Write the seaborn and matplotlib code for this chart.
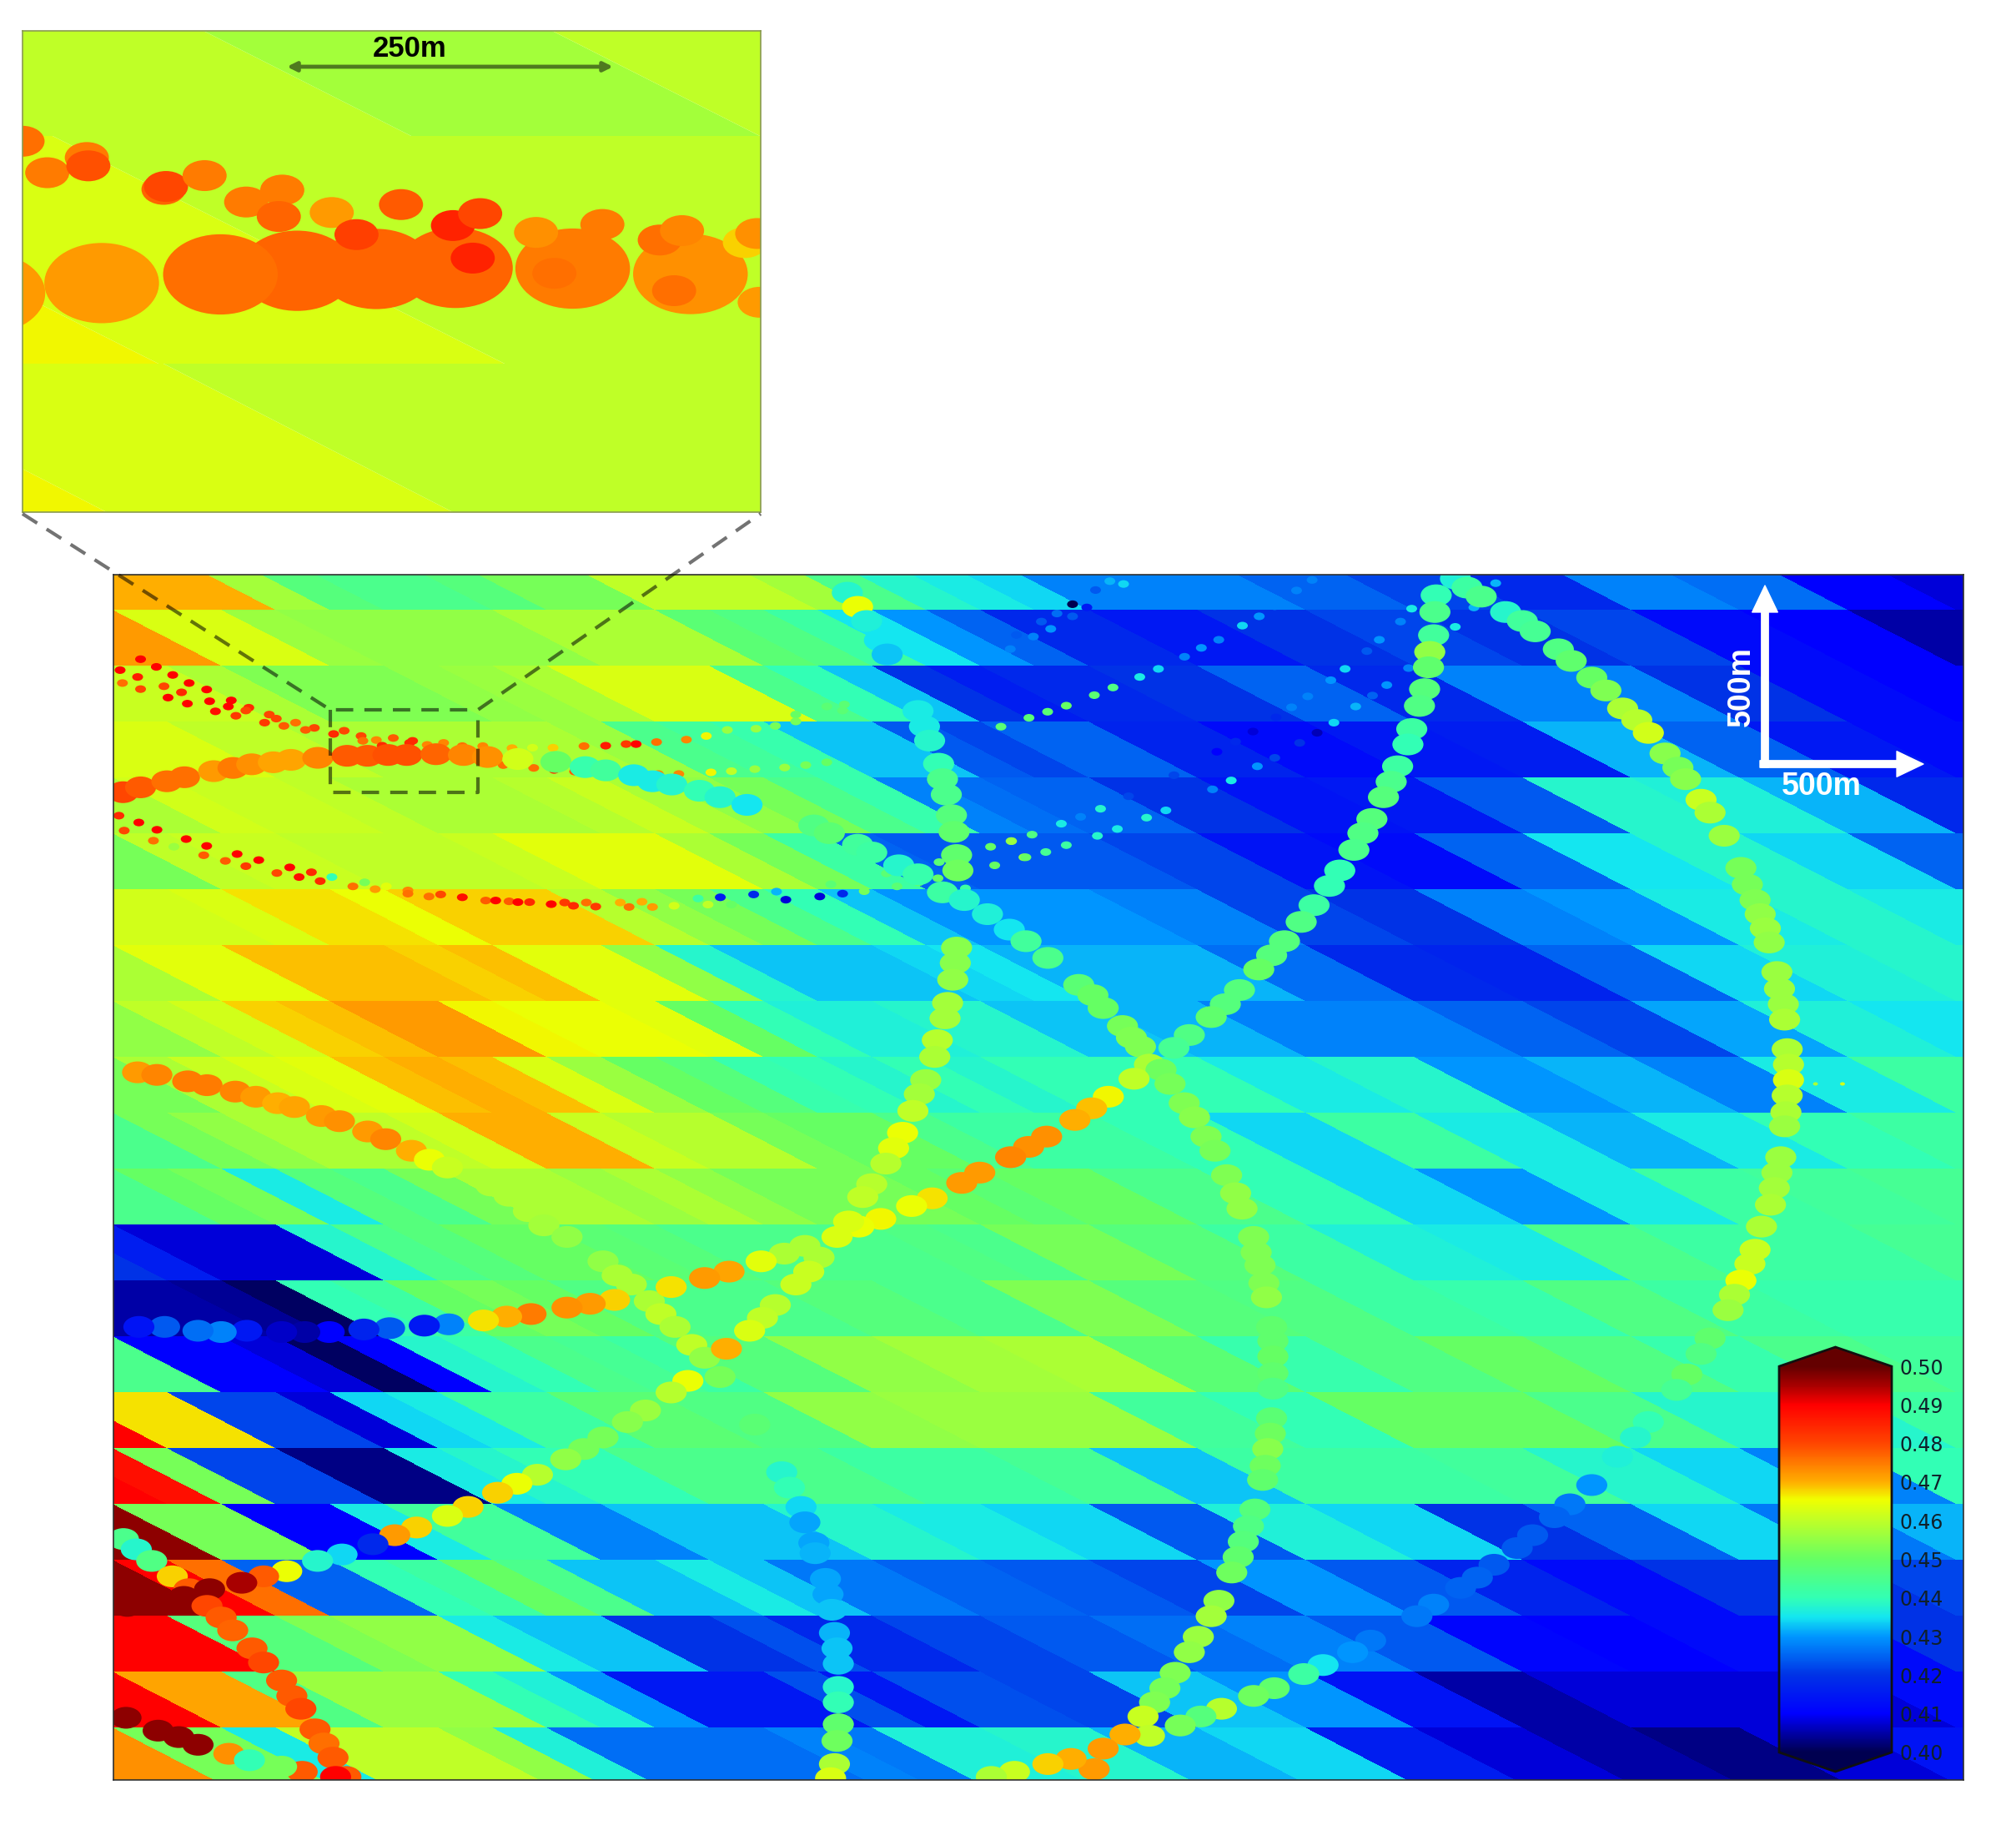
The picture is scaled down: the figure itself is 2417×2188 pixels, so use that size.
import numpy as np
import matplotlib
matplotlib.use("Agg")
import matplotlib.pyplot as plt
from matplotlib.colors import LinearSegmentedColormap, Normalize
from matplotlib.path import Path
from matplotlib.transforms import Affine2D
import seaborn as sns

sns.set_theme(style="white")
plt.rcParams["font.family"] = ["DejaVu Sans"]

W_PX, H_PX = 2417, 2188
SHRINK = 1.5415

# background cells, one list per band, left to right (value x 1000)
row00 = [470,470,450,445,448,455,460,445,434,428,428,425,422,418,428,426,410,408,408]
row01 = [470,458,455,455,456,458,450,440,428,418,415,420,422,420,422,412,410,405,405]
row02 = [462,460,452,455,462,462,450,435,420,418,420,425,418,428,428,420,412,410,410]
row03 = [463,462,460,457,458,455,445,433,424,425,417,412,415,416,432,425,415,412,412]
row04 = [460,462,460,460,458,460,455,440,428,425,420,414,415,424,438,437,432,418,418]
row05 = [455,462,460,460,462,463,455,442,424,424,422,414,412,425,435,438,434,425,425]
row06 = [462,463,467,462,467,458,452,440,430,430,428,422,420,428,430,436,438,436,436]
row07 = [458,464,468,464,468,463,446,433,432,432,432,426,418,417,425,434,437,438,438]
row08 = [455,460,468,472,465,465,450,436,438,433,432,428,428,425,422,431,437,435,435]
row09 = [452,458,463,470,463,455,445,440,436,440,440,436,438,430,432,428,436,442,442]
row10 = [445,452,458,460,470,460,452,450,440,442,440,434,442,436,432,436,440,442,442]
row11 = [445,450,436,450,455,458,455,455,448,450,445,440,434,430,436,442,443,444,444]
row12 = [412,410,414,445,448,450,447,445,445,452,447,442,437,436,445,442,442,444,444]
row13 = [405,403,401,442,450,445,445,447,445,453,447,446,442,441,446,442,441,441,441]
row14 = [445,412,401,412,438,442,447,455,457,458,448,441,446,450,446,441,445,443,443]
row15 = [467,422,408,434,442,448,446,455,456,456,443,440,450,450,445,438,438,442,442]
row16 = [488,452,412,403,437,440,445,445,442,444,433,442,442,443,438,434,428,440,440]
row17 = [497,452,410,438,443,433,433,438,436,434,424,437,434,420,425,434,427,432,432]
row18 = [496,476,423,440,448,433,434,427,425,424,422,430,424,417,412,420,420,422,422]
row19 = [490,490,452,456,450,433,423,418,422,424,426,428,424,411,410,412,412,420,420]
row20 = [490,471,456,456,440,432,415,415,423,422,433,430,414,405,408,408,408,412,412]
row21 = [472,455,435,458,455,437,425,427,437,438,432,434,416,408,405,403,408,414,414]
bg_rows = [row00,row01,row02,row03,row04,row05,row06,row07,row08,row09,row10,
           row11,row12,row13,row14,row15,row16,row17,row18,row19,row20,row21]

# half-width cells for the left part of each band, these replace the coarse ones above
fine00 = [470,470,470,457,447,445,445,447,452,452,460,460,460,457,445,438,436,434]
fine01 = [472,472,463,463,456,455,455,455,455,458,458,458,448,446,442,435,430,425]
fine02 = [461,461,461,458,453,453,453,455,456,458,463,463,463,445,440,433,420,416]
fine03 = [463,463,463,460,460,458,458,458,458,458,456,445,443,441,433,433,424,422]
fine04 = [458,458,462,461,461,460,458,458,458,459,461,458,455,452,445,441,428,426]
fine05 = [452,452,460,461,461,460,460,460,461,464,464,464,458,452,442,425,424,424]
fine06 = [462,462,462,463,467,467,465,468,468,468,459,455,452,445,440,433,430,430]
fine07 = [458,458,464,464,469,469,469,468,469,464,464,455,438,433,433,433,434,435]
fine08 = [455,455,460,462,468,469,472,472,466,465,465,464,450,440,437,437,438,438]
fine09 = [452,452,458,461,463,464,469,470,469,463,456,450,447,441,440,438,440,438]
fine10 = [445,445,452,455,458,458,460,462,470,470,461,459,459,452,450,450,445,442]
fine11 = [445,445,450,452,436,447,445,452,458,458,456,458,455,452,452,452,450,448]
fine12 = [420,416,408,408,408,438,445,447,450,450,448,447,445,445,445,445,446,445]
fine13 = [405,405,405,404,401,440,442,450,452,450,446,445,445,445,447,447,445,445]
fine14 = [445,445,410,410,408,401,410,438,440,445,444,442,447,447,455,455,457,457]
fine15 = [490,467,467,422,422,408,434,436,442,442,448,448,446,446,455,455,456,456]
fine16 = [490,488,452,422,422,403,403,436,438,440,440,445,445,445,445,442,442,442]
fine17 = [497,497,452,452,410,410,436,443,443,428,428,433,433,433,438,438,436,436]
fine18 = [497,497,490,476,425,425,440,442,450,445,433,433,436,433,427,427,425,425]
fine19 = [490,490,490,447,447,453,455,455,436,433,433,420,420,423,418,418,422,422]
fine20 = [490,490,471,471,446,456,456,456,440,437,430,415,415,415,423,415,423,423]
fine21 = [473,473,452,452,436,460,460,460,455,437,426,426,426,426,428,427,437,437]
bg_fine = [fine00,fine01,fine02,fine03,fine04,fine05,fine06,fine07,fine08,fine09,fine10,
           fine11,fine12,fine13,fine14,fine15,fine16,fine17,fine18,fine19,fine20,fine21]

# big dot tracks, x y value
trackA_x = [1117,1116,1115,1112,1111,1108,1104,1098,1095,1087,1082,1076,1067,1060,1053,1042,1034,1022,1012,999,989,979,964,953,942,925,913,882,862,849,836,814,800,786,762,748,725,709,685,668,660,651,626,610,592,567,548,522,478,459,441,413,394,376,349,330,303,283,256,237,219,192,172,154,128,108]
trackA_y = [463,476,494,507,519,536,549,567,579,596,608,620,637,648,661,677,689,704,717,732,743,754,770,781,791,805,815,839,853,862,871,884,892,900,912,920,932,938,948,954,950,962,969,975,981,989,994,1001,1011,1014,1017,1022,1024,1027,1030,1031,1033,1034,1036,1036,1036,1035,1036,1035,1032,1032]
trackA_v = [440,445,443,455,449,447,446,442,440,442,445,447,447,446,445,440,440,442,446,447,447,450,447,447,449,446,444,460,466,469,470,473,473,474,472,472,467,465,466,465,463,463,458,458,464,471,472,467,468,472,473,475,470,467,428,415,424,417,410,405,407,415,428,426,424,414]

trackB_x = [637,629,619,603,593,583,565,535,522,502,488,469,454,440,418,402,387,364,348,324,307,290,266,247,223,205,188]
trackB_y = [978,989,999,1015,1025,1035,1049,1074,1083,1097,1106,1118,1127,1135,1147,1154,1161,1172,1179,1188,1194,1201,1209,1214,1222,1226,1231]
trackB_v = [458,461,461,459,460,463,470,465,459,456,454,452,452,455,459,465,468,468,463,468,472,418,434,438,465,478,495]

trackC_x = [96,106,118,134,147,163,143,117,99,161,172,181,196,205,219,227,234,245,252,259,269,261,235]
trackC_y = [1197,1205,1214,1226,1236,1236,1242,1245,1249,1249,1258,1268,1282,1293,1307,1319,1329,1345,1356,1367,1382,1382,1378]
trackC_v = [445,438,446,468,478,497,497,497,497,480,478,477,478,480,478,478,480,478,476,478,478,490,478]

trackD_x = [98,123,139,154,178,194,219]
trackD_y = [1336,1346,1351,1357,1364,1369,1374]
trackD_v = [497,497,497,497,473,440,452]

trackE_x = [107,122,146,161,183,199,216,229,250,264,286,300,320,334,348,382,396,411,423,441,469,480,491,505,514,525,538,548,560,587,608,614,623,626,633,634,642,644,647,649,651,652,652,652,652,651,649,646]
trackE_y = [834,836,841,844,849,853,858,861,868,872,880,886,895,902,908,922,930,942,953,962,981,992,999,1012,1022,1032,1046,1056,1071,1108,1145,1157,1172,1184,1200,1208,1228,1240,1252,1270,1282,1294,1312,1324,1341,1354,1372,1383]
trackE_v = [472,474,475,475,474,472,470,471,472,473,472,474,470,465,461,458,458,458,457,455,455,458,458,458,460,458,460,455,452,448,438,440,434,431,431,432,431,431,433,432,433,433,438,440,449,451,458,463]

trackF_x = [659,667,674,684,690,714,719,723,730,733,736,740,742,744,745,744,743,741,737,735,729,727,720,715,710,702,695,689,678,671]
trackF_y = [461,472,483,498,509,553,565,576,594,606,618,634,647,665,677,737,749,762,780,792,809,822,840,851,864,881,893,905,921,931]
trackF_v = [438,465,437,435,433,436,436,438,440,445,445,447,449,449,451,454,454,455,457,457,459,458,456,457,460,465,464,459,459,460]

trackG_x = [544,560,581,633,645,667,678,699,714,733,750,768,785,798,815,839,850,858,873,880,887,894,903,910,921,929,938,945,954,961,966,975,977,980,983,985,989,990,990,990,990,989,988,986,984,982,976,971,967,963,958,948,942,932,925,914,906,898,889,894,875,858,851,833,815,789,771]
trackG_y = [615,620,626,642,648,657,663,673,680,694,700,711,723,732,745,766,774,784,798,807,814,828,832,843,858,869,884,895,914,928,940,962,974,984,998,1009,1032,1043,1055,1068,1080,1103,1115,1127,1140,1151,1174,1187,1199,1211,1223,1245,1257,1273,1285,1301,1313,1324,1335,1350,1349,1360,1376,1368,1372,1378,1382]
trackG_v = [440,438,435,446,448,443,442,438,441,442,438,437,435,443,445,448,450,450,452,453,453,458,451,452,453,454,453,452,453,455,455,453,453,453,453,455,449,449,450,449,446,448,451,454,451,449,447,446,447,449,451,455,457,456,455,453,452,453,461,460,470,472,472,470,468,461,458]

trackH_x = [1132,1141,1152,1171,1184,1194,1212,1222,1238,1249,1262,1273,1282,1295,1305,1311,1323,1330,1341,1354,1359,1365,1369,1373,1376,1382,1384,1387,1388,1390,1391,1391,1390,1389,1388,1385,1382,1380,1377,1370,1365,1361,1354,1349,1344,1330,1323,1312,1304,1282,1272,1258,1238,1221,1209,1192,1180,1162,1149,1136,1115,1102,1066,1052,1029,1014,991,975,950,934,918]
trackH_y = [450,457,464,476,483,491,505,514,527,537,551,560,570,586,597,606,622,632,650,675,688,700,711,722,733,756,769,781,793,816,828,840,852,865,876,900,912,924,937,954,972,983,996,1007,1019,1041,1053,1069,1081,1106,1118,1133,1155,1170,1180,1194,1204,1217,1227,1235,1248,1257,1276,1285,1295,1302,1313,1319,1329,1335,1342]
trackH_v = [437,442,445,438,443,444,446,449,450,453,458,459,462,454,452,454,461,458,456,452,452,453,455,456,455,456,456,456,458,458,459,463,459,458,456,456,456,457,458,458,461,461,465,458,456,449,446,450,444,440,438,437,430,427,425,424,424,424,425,425,428,427,427,430,435,442,449,451,459,447,452]

# the thick track running into the zoom box, read in crop 1 pixels
trackI_zx = [25,55,100,130,180,213,245,282,312,358,408,443,478,510,560,607,648,700,765,815,850,898,930,963]
trackI_zy = [557,545,530,520,505,497,488,483,477,472,467,467,465,465,463,465,470,475,482,495,503,515,530,538]
trackI_v = [480,478,476,476,472,475,473,471,471,474,478,478,479,479,477,474,473,462,450,441,443,436,436,438]

# small dots read in crop 1 pixels
redA_zx = [55,82,110,138,168,20,50,24,55,95,125,102,135,173,183,210,205,240,235,218,275,287,267,300,320,352,337,403,385]
redA_zy = [228,247,267,287,303,255,272,287,302,295,310,323,338,332,357,330,345,348,355,368,365,375,385,393,385,398,403,405,413]
redA_v = [490,490,490,490,490,490,486,476,480,480,484,490,490,490,488,490,490,484,480,482,480,480,482,478,476,480,478,480,484]

midB_zx = [432,435,458,487,468,515,520,545,573,605,640,690,725,760,813,850,885,902,937,988,1022,1058,1107,1140,1175,1175,1228,1258,1255]
midB_zy = [418,430,428,423,442,435,430,440,435,443,443,448,447,447,443,442,438,438,433,427,418,403,400,393,365,382,345,340,355]
midB_v = [480,476,474,478,484,484,484,474,474,476,474,470,462,468,476,486,482,490,476,474,466,456,456,452,450,452,448,448,448]

lowC_zx = [675,727,762,797,850,886,940,975,1030,1065,1105,1156,1192,1228]
lowC_zy = [490,497,502,506,510,511,512,512,508,505,500,496,490,483]
lowC_v = [476,476,484,478,476,482,474,474,466,460,456,456,452,450]

lineD_zx = [18,52,27,83,77,133,112,168,163,220,200,257,235,310,288,347,326,362,382,418,438,456,475,512,512,548,568,605,645,662,685,700,720,757,780,795,817,833,875,890,912,930,967,1008,1025,1046,1065,1103,1142,1158,1216,1255,1292,1348,1385,1418,1465,1235,1508,1543,1515,1565,1420,1330]
lineD_zy = [615,632,652,650,677,673,692,690,713,710,727,725,740,743,757,755,767,777,767,790,780,797,790,800,808,815,810,817,825,825,827,829,829,834,830,838,830,840,830,841,828,841,838,820,835,817,835,810,803,823,815,808,802,790,780,770,795,785,692,678,738,718,730,758]
lineD_v = [484,490,480,490,476,490,456,490,478,490,478,490,482,490,480,484,488,484,440,476,452,472,464,474,476,476,480,488,478,490,478,490,484,490,482,484,476,482,470,476,470,472,462,442,460,416,450,418,432,408,408,418,452,448,450,450,442,448,450,452,450,454,448,448]

# small dots read in crop 2 pixels
riseT1_zx = [40,72,105,155,187,234,265,295,340,370,412,440,480,508,535,570,597,620,655,588,608,642,660,730,760,795]
riseT1_zy = [718,705,688,665,648,620,602,580,550,528,493,472,435,410,385,345,318,292,250,208,180,135,103,148,100,40]
riseT1_v = [450,444,442,438,436,438,434,420,428,436,430,422,420,406,434,432,425,430,428,424,430,428,436,436,432,432]

riseT2_zx = [17,50,97,128,160,205,235,278,347,377,405,442,467,493,530,553]
riseT2_zy = [678,662,635,618,598,567,547,515,457,432,407,372,347,320,280,252]
riseT2_v = [456,446,436,428,438,422,420,422,410,418,408,418,428,428,430,434]

riseT3_zx = [0,45,75,105,150,180,223,253,295,322,350,388,415,440,475,500]
riseT3_zy = [395,373,358,343,317,298,272,252,222,200,180,145,122,97,58,32]
riseT3_v = [448,448,448,450,448,446,436,434,428,430,428,434,430,428,428,428]

riseT4_zx = [15,52,80,25,65,90,115,115,138,152,175,197,175]
riseT4_zy = [203,172,153,168,135,115,122,92,100,57,35,42,65]
riseT4_v = [428,428,430,424,424,426,424,400,415,424,432,434,428]

side_x = [1412,1433]
side_y = [843,843]
side_v = [458,462]

# inset, read in crop 5 pixels
inset_big_x = [-25,205,600,760,920,445,1157,1395]
inset_big_y = [765,737,703,698,695,713,697,712]
inset_big_v = [472,472,477,477,477,476,475,473]
inset_small_x = [1120,1362,1505,1530,1535,45,175,95,178,330,335,413,497,570,563,670,720,810,915,970,955,1083,1217,1333,1378]
inset_small_y = [710,758,625,600,790,345,390,432,413,478,470,440,513,480,553,542,603,520,578,545,668,597,575,618,592]
inset_small_v = [476,476,468,473,472,476,475,475,479,477,480,475,475,475,477,472,481,478,485,480,485,473,475,476,474]

cbar_ticks = [0.40,0.41,0.42,0.43,0.44,0.45,0.46,0.47,0.48,0.49,0.50]

jet_stops = [(0.000,"#000050"),(0.050,"#0000a8"),(0.100,"#0000ff"),(0.200,"#0032e6"),
             (0.300,"#0096ff"),(0.350,"#14e6f0"),(0.400,"#32ffb4"),(0.500,"#64ff64"),
             (0.600,"#beff28"),(0.655,"#f0ff00"),(0.700,"#ffaf00"),(0.800,"#ff4600"),
             (0.900,"#ff0000"),(0.950,"#aa0000"),(1.000,"#640000")]
cmap = LinearSegmentedColormap.from_list("map_jet", jet_stops, N=512)
cmap.set_under("#000050")
cmap.set_over("#640000")
norm = Normalize(0.40, 0.50)

ellipse = Path.unit_circle().transformed(Affine2D().scale(1.0, 0.7))


def px_axes(fig, x0, y0, x1, y1):
    return fig.add_axes([x0 / W_PX, 1 - y1 / H_PX, (x1 - x0) / W_PX, (y1 - y0) / H_PX])


def dots(ax, xs, ys, vals, size):
    sns.scatterplot(x=np.asarray(xs, float), y=np.asarray(ys, float),
                    hue=np.asarray(vals, float) / 1000, palette=cmap, hue_norm=norm,
                    s=size, marker=ellipse, linewidth=0, legend=False, ax=ax)


def crop1(zx, zy):
    return 84.3 + 0.455 * np.array(zx), 441 + 0.3144 * np.array(zy)


def crop2(zx, zy):
    return 778.5 + 0.484 * np.array(zx), 441 + 0.3144 * np.array(zy)


fig = plt.figure(figsize=(W_PX / 100, H_PX / 100), dpi=100, facecolor="white")

# main map
ax = px_axes(fig, 136, 689, 2354, 2134)
band_h = 43.46
cell_w = 84.33
x_left = 136 / SHRINK
last = None
for r, (coarse, fine) in enumerate(zip(bg_rows, bg_fine)):
    vals = np.repeat(coarse, 2)
    vals[:len(fine)] = fine
    top = 430.74 + r * band_h
    edges = x_left - cell_w + cell_w / 2 * np.arange(vals.size + 1)
    X = np.vstack([edges, edges + cell_w])
    Y = np.vstack([np.full(edges.size, top), np.full(edges.size, top + band_h)])
    last = ax.pcolormesh(X, Y, vals[None, :] / 1000, cmap=cmap, norm=norm,
                         shading="flat", antialiased=False, linewidth=0)

small = 88
for zx, zy, v in [(redA_zx, redA_zy, redA_v), (midB_zx, midB_zy, midB_v),
                  (lowC_zx, lowC_zy, lowC_v), (lineD_zx, lineD_zy, lineD_v)]:
    x, y = crop1(zx, zy)
    dots(ax, x, y, v, small)
for zx, zy, v in [(riseT1_zx, riseT1_zy, riseT1_v), (riseT2_zx, riseT2_zy, riseT2_v),
                  (riseT3_zx, riseT3_zy, riseT3_v), (riseT4_zx, riseT4_zy, riseT4_v)]:
    x, y = crop2(zx, zy)
    dots(ax, x, y, v, small)
dots(ax, side_x, side_y, side_v, 18)

big = 720
x, y = crop1(trackI_zx, trackI_zy)
dots(ax, x, y, trackI_v, big)
for xs, ys, vs in [(trackE_x, trackE_y, trackE_v), (trackF_x, trackF_y, trackF_v),
                   (trackG_x, trackG_y, trackG_v), (trackH_x, trackH_y, trackH_v),
                   (trackB_x, trackB_y, trackB_v), (trackA_x, trackA_y, trackA_v),
                   (trackC_x, trackC_y, trackC_v), (trackD_x, trackD_y, trackD_v)]:
    dots(ax, xs, ys, vs, big)

ax.set_xlim(136 / SHRINK, 2354 / SHRINK)
ax.set_ylim(2134 / SHRINK, 689 / SHRINK)
ax.set_xticks([])
ax.set_yticks([])
ax.set_xlabel("")
for sp in ax.spines.values():
    sp.set_visible(True)
    sp.set_color("#303030")
    sp.set_linewidth(1.2)

# zoomed inset
ins = px_axes(fig, 27, 37, 912, 614)
inset_bands = [(40, 330, 420, [-2000, 410, 1115, 2200], [460, 457, 460]),
               (330, 960, 915, [-2000, -595, 105, 2200], [466, 463, 460]),
               (960, 1370, 585, [-2000, -370, 330, 2500], [466, 463, 460])]
for y0, y1, shear, edges, vals in inset_bands:
    e = np.array(edges, float)
    X = np.vstack([e, e + shear])
    Y = np.vstack([np.full(e.size, y0), np.full(e.size, y1)])
    ins.pcolormesh(X, Y, np.array([vals]) / 1000, cmap=cmap, norm=norm, shading="flat",
                   antialiased=True, linewidth=0)
dots(ins, inset_big_x, inset_big_y, inset_big_v, 9800)
dots(ins, inset_small_x, inset_small_y, inset_small_v, 1450)
ins.set_xlim(45, 1537)
ins.set_ylim(1370, 40)
ins.set_xticks([])
ins.set_yticks([])
for sp in ins.spines.values():
    sp.set_visible(True)
    sp.set_color("#8a9a50")
    sp.set_linewidth(1.2)

# colorbar, the axes box has to hold the two tips as well
cax = px_axes(fig, 2133, 1615, 2268, 2124)
cb = fig.colorbar(last, cax=cax, extend="both", extendfrac=0.05, ticks=cbar_ticks)
cb.ax.set_yticklabels([f"{t:.2f}" for t in cbar_ticks], fontsize=17, color="#10202a")
cb.ax.tick_params(axis="y", direction="in", length=7, width=1.2, pad=7, right=True, color="#303030")
cb.outline.set_edgecolor("#101010")
cb.outline.set_linewidth(2)

# annotations, in picture pixels
over = fig.add_axes([0, 0, 1, 1], facecolor="none")
over.set_xlim(0, W_PX)
over.set_ylim(H_PX, 0)
over.axis("off")

dash = dict(color="black", alpha=0.55, lw=3, ls=(0, (5, 3.2)))
over.plot([27, 396, 573, 912], [616, 851, 851, 616], **dash)
over.plot([396, 396, 573, 573], [851, 950, 950, 851], **dash)

over.annotate("", xy=(2116, 702), xytext=(2116, 920),
              arrowprops=dict(facecolor="white", edgecolor="white", width=6, headwidth=22, headlength=23, shrink=0))
over.annotate("", xy=(2306, 916), xytext=(2110, 916),
              arrowprops=dict(facecolor="white", edgecolor="white", width=6, headwidth=22, headlength=23, shrink=0))
over.text(2088, 823, "500m", color="white", rotation=90, fontsize=27, fontweight="bold",
          family="Liberation Sans", ha="center", va="center")
over.text(2184, 943, "500m", color="white", fontsize=27, fontweight="bold",
          family="Liberation Sans", ha="center", va="center")
over.annotate("", xy=(344, 80), xytext=(735, 80),
              arrowprops=dict(arrowstyle="<|-|>", color="#4f7a1f", lw=3.5, mutation_scale=16, shrinkA=0, shrinkB=0))
over.text(491, 58, "250m", color="black", fontsize=25, fontweight="bold",
          family="Liberation Sans", ha="center", va="center")

fig.savefig("out.png", dpi=100, facecolor="white")
